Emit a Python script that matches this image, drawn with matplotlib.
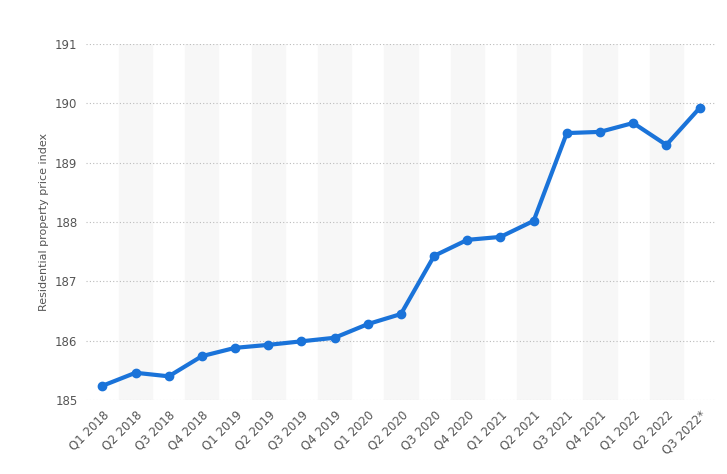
import matplotlib.pyplot as plt
import numpy as np

quarters = ["Q1 2018", "Q2 2018", "Q3 2018", "Q4 2018", "Q1 2019", "Q2 2019",
            "Q3 2019", "Q4 2019", "Q1 2020", "Q2 2020", "Q3 2020", "Q4 2020",
            "Q1 2021", "Q2 2021", "Q3 2021", "Q4 2021", "Q1 2022", "Q2 2022",
            "Q3 2022*"]
index_values = [185.24, 185.46, 185.40, 185.74, 185.88, 185.93, 185.99, 186.05,
                186.28, 186.45, 187.43, 187.70, 187.75, 188.02, 189.50, 189.52,
                189.67, 189.30, 189.92]

fig, ax = plt.subplots(figsize=(7.27, 4.74), dpi=100)
fig.subplots_adjust(left=0.118, right=0.985, top=0.907, bottom=0.156)

x = np.arange(len(quarters))
for i in x:
    if i % 2 == 1:
        ax.axvspan(i - 0.5, i + 0.5, color="#f7f7f7", zorder=0)

ax.plot(x, index_values, color="#1a73d9", lw=3, marker="o", ms=6, zorder=3)

ax.set_xlim(-0.5, len(quarters) - 0.5)
ax.set_ylim(185, 191)
ax.set_yticks(range(185, 192))
ax.yaxis.grid(True, ls=(0, (1, 2)), color="#bbbbbb", lw=0.8)
ax.set_axisbelow(True)
ax.set_xticks(x)
ax.set_xticklabels(quarters, rotation=45, ha="right", rotation_mode="anchor")
ax.tick_params(labelsize=8.5, colors="#555555", length=0, pad=6)
ax.set_ylabel("Residential property price index", fontsize=8, color="#555555")
for s in ax.spines.values():
    s.set_visible(False)

fig.savefig("out.png")
